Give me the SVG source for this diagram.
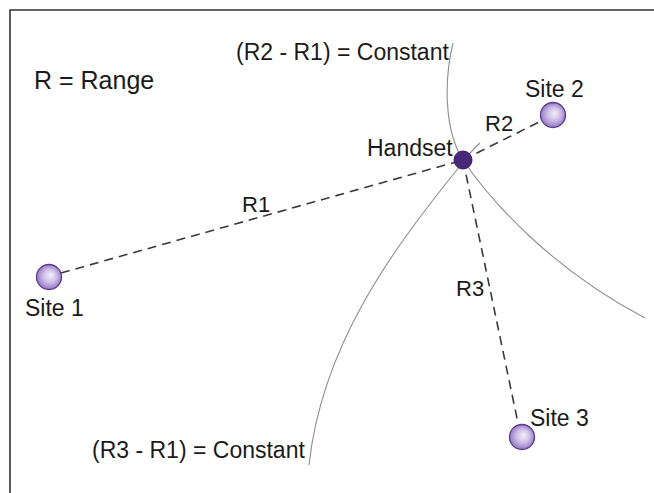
<svg xmlns="http://www.w3.org/2000/svg" width="654" height="493" viewBox="0 0 654 493">
  <style>
    .lbl { font-family: "Liberation Sans", Arial, sans-serif; fill: #1a1a1a; font-size: 23px; }
    .big { font-size: 25px; }
    .r { font-size: 22px; }
    .range { fill: none; stroke: #3a3a3a; stroke-width: 1.6; stroke-dasharray: 9 6; }
    .hyp { fill: none; stroke: #8e8e8e; stroke-width: 1.1; }
    .site { fill: url(#ball); stroke: #5a3a8c; stroke-width: 1.3; }
  </style>
  <defs>
    <radialGradient id="ball" cx="0.5" cy="0.5" r="0.55" fx="0.58" fy="0.42">
      <stop offset="0" stop-color="#f4f0fa"/>
      <stop offset="0.5" stop-color="#cbbbe6"/>
      <stop offset="1" stop-color="#8b6bbd"/>
    </radialGradient>
  </defs>
  <rect width="654" height="493" fill="#fff"/>
  <!-- frame -->
  <path d="M10 500 V10 H660" fill="none" stroke="#333" stroke-width="1.6"/>

  <g id="connectors">
    <!-- hyperbolae of constant range difference -->
    <path class="hyp" d="M453 43 C444 80 444 130 463 160 C490 200 550 268 645 318"/>
    <path class="hyp" d="M480 143 Q470 152 460 166 C392 250 322 345 309 465"/>
    <!-- ranges -->
    <line class="range" x1="61" y1="273" x2="463" y2="160"/>
    <line class="range" x1="463" y1="160" x2="541" y2="121"/>
    <line class="range" x1="463" y1="160" x2="518" y2="423"/>
  </g>

  <g id="site1">
    <circle class="site" cx="49" cy="277" r="12.5"/>
    <text class="lbl" x="25" y="316">Site 1</text>
  </g>
  <g id="site2">
    <circle class="site" cx="553" cy="115" r="12.5"/>
    <text class="lbl" x="525" y="97">Site 2</text>
  </g>
  <g id="site3">
    <circle class="site" cx="522" cy="437" r="12.5"/>
    <text class="lbl" x="530" y="426">Site 3</text>
  </g>
  <g id="handset">
    <circle cx="463" cy="160" r="9" fill="#4a2878" stroke="#361a60" stroke-width="1"/>
    <text class="lbl" x="367" y="156">Handset</text>
  </g>

  <g id="labels">
    <text class="lbl big" x="34" y="89">R = Range</text>
    <text class="lbl" x="236" y="60">(R2 - R1) = Constant</text>
    <text class="lbl" x="92" y="458">(R3 - R1) = Constant</text>
    <text class="lbl r" x="242" y="212">R1</text>
    <text class="lbl r" x="485" y="131">R2</text>
    <text class="lbl r" x="456" y="296">R3</text>
  </g>
</svg>
